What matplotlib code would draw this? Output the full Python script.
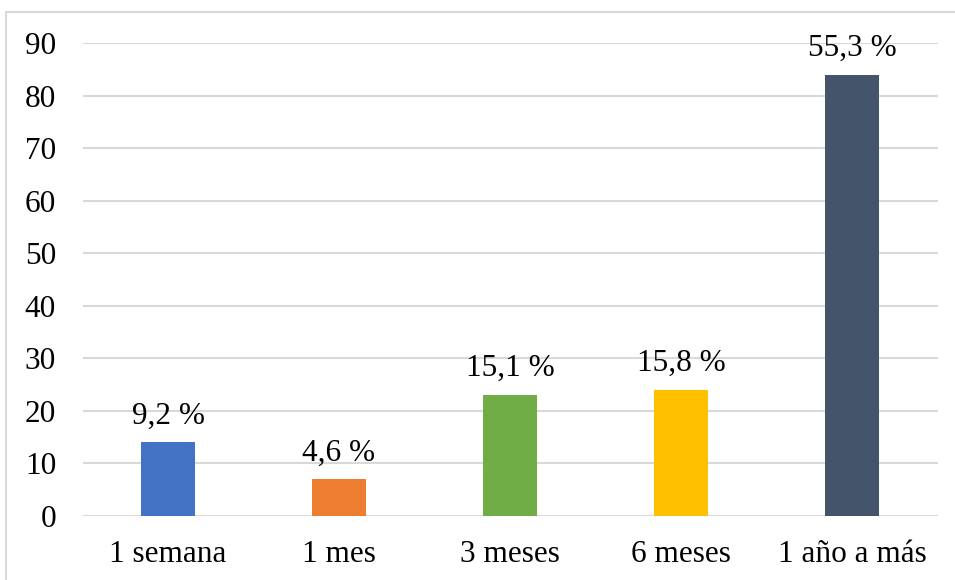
import numpy as np
import matplotlib.pyplot as plt
from matplotlib.patches import Rectangle

# tiempo de consumo, conteos por categoria
categorias = ["1 semana", "1 mes", "3 meses", "6 meses", "1 año a más"]
conteos = [14, 7, 23, 24, 84]
colores = ["#4472C4", "#ED7D31", "#70AD47", "#FFC000", "#44546A"]

total = sum(conteos)
porcentajes = [c / total * 100 for c in conteos]

plt.rcParams['font.family'] = ['Liberation Serif', 'DejaVu Serif']
fs = 22.5

fig = plt.figure(figsize=(9.55, 5.8), dpi=100)
ax = fig.add_axes([82.5 / 955, 1 - 516 / 580, (937.5 - 82.5) / 955, (516 - 43) / 580])

x = np.arange(len(categorias))
ax.bar(x, conteos, width=0.316, color=colores, zorder=3)

for xi, c, p in zip(x, conteos, porcentajes):
    ax.annotate(f"{p:.1f} %".replace('.', ','), (xi, c), xytext=(0, 8.5),
                textcoords="offset points", ha="center", va="bottom", fontsize=fs)

ax.set_xlim(-0.5, len(categorias) - 0.5)
ax.set_ylim(0, 90)
ax.set_yticks(range(0, 91, 10))
ax.set_xticks(x)
ax.set_xticklabels(categorias)
ax.tick_params(axis='both', length=0, labelsize=fs)
ax.tick_params(axis='y', pad=19)
ax.tick_params(axis='x', pad=17)
ax.yaxis.grid(True, color="#D9D9D9", linewidth=1.5, zorder=0)
for s in ax.spines.values():
    s.set_visible(False)

# marco del grafico
fig.patches.append(Rectangle((6 / 955, -0.1), 1.1, 1.1 - 12 / 580,
                             transform=fig.transFigure, fill=False,
                             edgecolor="#D9D9D9", linewidth=1.5))

fig.savefig("out.png", dpi=100)
